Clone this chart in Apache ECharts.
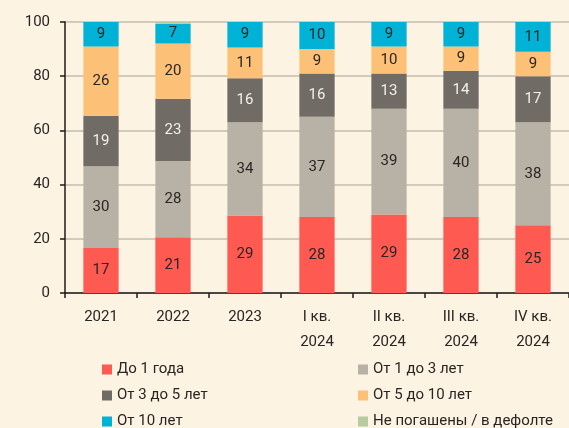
<!DOCTYPE html>
<html>
<head>
<meta charset="UTF-8" />
<title>Структура по срокам</title>
<script src="https://cdn.jsdelivr.net/npm/echarts@6/dist/echarts.min.js"></script>
<style>
  html, body { margin: 0; padding: 0; background: #fcf3e3; }
  #chart { width: 569px; height: 428px; }
</style>
</head>
<body>
<div id="chart"></div>
<script>
// категории и значения (в %), оценены по высоте столбцов
var categories = ['2021', '2022', '2023', 'I кв.\n2024', 'II кв.\n2024', 'III кв.\n2024', 'IV кв.\n2024'];
var upTo1 = [16.6, 20.6, 28.6, 28, 29, 28, 25];
var from1to3 = [30.2, 28.1, 34.4, 37, 39, 40, 38];
var from3to5 = [18.6, 23, 16.2, 16, 13, 14, 17];
var from5to10 = [25.6, 20.4, 11.4, 9, 10, 9, 9];
var over10 = [9.0, 7.3, 9.4, 10, 9, 9, 11];
var defaulted = [0, 0.6, 0, 0, 0, 0, 0];

var names = ['До 1 года', 'От 1 до 3 лет', 'От 3 до 5 лет', 'От 5 до 10 лет', 'От 10 лет', 'Не погашены / в дефолте'];
var colors = ['#ff5a52', '#b8b2a6', '#706b64', '#fdc077', '#00b2d6', '#b5cca0'];
var dataSets = [upTo1, from1to3, from3to5, from5to10, over10, defaulted];
var labelColors = ['#2a2523', '#2a2523', '#f4f0ea', '#2a2523', '#2a2523', '#2a2523'];

var FONT = 'Roboto';

var series = dataSets.map(function(d, i) {
	return {
		name: names[i],
		type: 'bar',
		stack: 'total',
		barWidth: '49%',
		data: d,
		itemStyle: { color: colors[i] },
		label: {
			show: i < 5,
			position: 'inside',
			color: labelColors[i],
			fontFamily: FONT,
			fontSize: 15,
			formatter: function(p) { return Math.round(p.value); }
		}
	};
});

var legendBase = {
	orient: 'vertical',
	top: 357, height: 80,
	itemWidth: 10, itemHeight: 10, itemGap: 11,
	icon: 'rect',
	textStyle: { color: '#2a2523', fontFamily: FONT, fontSize: 15 }
};

var chart = echarts.init(document.getElementById('chart'));
chart.setOption({
	backgroundColor: '#fcf3e3',
	color: colors,
	animation: false,
	grid: { left: 65, right: -9, top: 22, bottom: 135 },
	legend: [
		Object.assign({}, legendBase, { left: 97, data: [names[0], names[2], names[4]] }),
		Object.assign({}, legendBase, { left: 353, data: [names[1], names[3], names[5]] })
	],
	xAxis: {
		type: 'category',
		data: categories,
		axisLine: { lineStyle: { color: '#1e1b19', width: 1.5 } },
		axisTick: { show: true, length: 5, lineStyle: { color: '#1e1b19', width: 1.5 } },
		axisLabel: { color: '#2a2523', fontFamily: FONT, fontSize: 15, lineHeight: 25, margin: 12 }
	},
	yAxis: {
		type: 'value',
		min: 0, max: 100, interval: 20,
		axisLine: { show: true, lineStyle: { color: '#1e1b19', width: 1.5 } },
		axisTick: { show: true, length: 5, lineStyle: { color: '#1e1b19', width: 1.5 } },
		splitLine: { lineStyle: { color: '#c4bcb1', width: 1.5 } },
		axisLabel: { color: '#2a2523', fontFamily: FONT, fontSize: 15, margin: 15 }
	},
	series: series
});
</script>
</body>
</html>
